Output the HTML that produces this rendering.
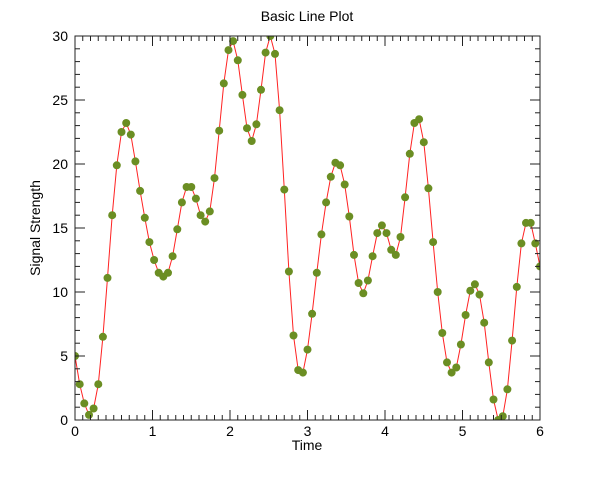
<!DOCTYPE html>
<html><head><style>
body{margin:0;background:#fff;}
svg{display:block;font-family:"Liberation Sans",sans-serif;}
</style></head><body>
<svg id="s" width="600" height="480" xmlns="http://www.w3.org/2000/svg">
<defs><clipPath id="c"><rect x="75" y="36" width="465" height="384"/></clipPath></defs>
<rect width="600" height="480" fill="#fff"/>
<text x="307" y="21" font-size="14" text-anchor="middle">Basic Line Plot</text>
<text x="307" y="450" font-size="14" text-anchor="middle">Time</text>
<text transform="translate(40,228) rotate(-90)" font-size="14" text-anchor="middle">Signal Strength</text>
<g id="g"></g>
</svg>
<script>
var v=[5.0,2.8,1.3,0.4,0.9,2.8,6.5,11.1,16.0,19.9,22.5,23.2,22.3,20.2,17.9,15.8,13.9,12.5,11.5,11.2,11.5,12.8,14.9,17.0,18.2,18.2,17.3,16.0,15.5,16.3,18.9,22.6,26.3,28.9,29.6,28.1,25.4,22.8,21.8,23.1,25.8,28.7,30.0,28.6,24.2,18.0,11.6,6.6,3.9,3.7,5.5,8.3,11.5,14.5,17.0,19.0,20.1,19.9,18.4,15.9,12.9,10.7,9.9,10.9,12.8,14.6,15.2,14.6,13.3,12.9,14.3,17.4,20.8,23.2,23.5,21.7,18.1,13.9,10.0,6.8,4.5,3.7,4.1,5.9,8.2,10.1,10.6,9.8,7.6,4.5,1.6,0.0,0.3,2.4,6.2,10.4,13.8,15.4,15.4,13.8,12.0];
var L=75,R=540,T=36,B=420;
function X(t){return L+(R-L)*t/6}function Y(y){return B-(B-T)*y/30}
var h='';
var p='';for(var i=0;i<v.length;i++)p+=X(i*0.06).toFixed(1)+','+Y(v[i]).toFixed(1)+' ';
h+='<g clip-path="url(#c)"><polyline points="'+p+'" fill="none" stroke="#f22" stroke-width="1"/>';
for(i=0;i<v.length;i++)h+='<circle cx="'+X(i*0.06).toFixed(1)+'" cy="'+Y(v[i]).toFixed(1)+'" r="4" fill="#6b8e23"/>';
h+='</g>';
h+='<rect x="'+L+'" y="'+T+'" width="'+(R-L)+'" height="'+(B-T)+'" fill="none" stroke="#222" stroke-width="1"/>';
for(i=0;i<=60;i++){var x=X(i/10),len=i%10==0?10:5;
h+='<line x1="'+x+'" y1="'+B+'" x2="'+x+'" y2="'+(B-len)+'" stroke="#222"/><line x1="'+x+'" y1="'+T+'" x2="'+x+'" y2="'+(T+len)+'" stroke="#222"/>';
if(i%10==0)h+='<text x="'+x+'" y="436" font-size="14" text-anchor="middle">'+(i/10)+'</text>';}
for(var j=0;j<=30;j++){var y=Y(j),len=j%5==0?10:5;
h+='<line x1="'+L+'" y1="'+y+'" x2="'+(L+len)+'" y2="'+y+'" stroke="#222"/><line x1="'+R+'" y1="'+y+'" x2="'+(R-len)+'" y2="'+y+'" stroke="#222"/>';
if(j%5==0)h+='<text x="68" y="'+(y+5)+'" font-size="14" text-anchor="end">'+j+'</text>';}
document.getElementById('g').innerHTML=h;
</script>
</body></html>
